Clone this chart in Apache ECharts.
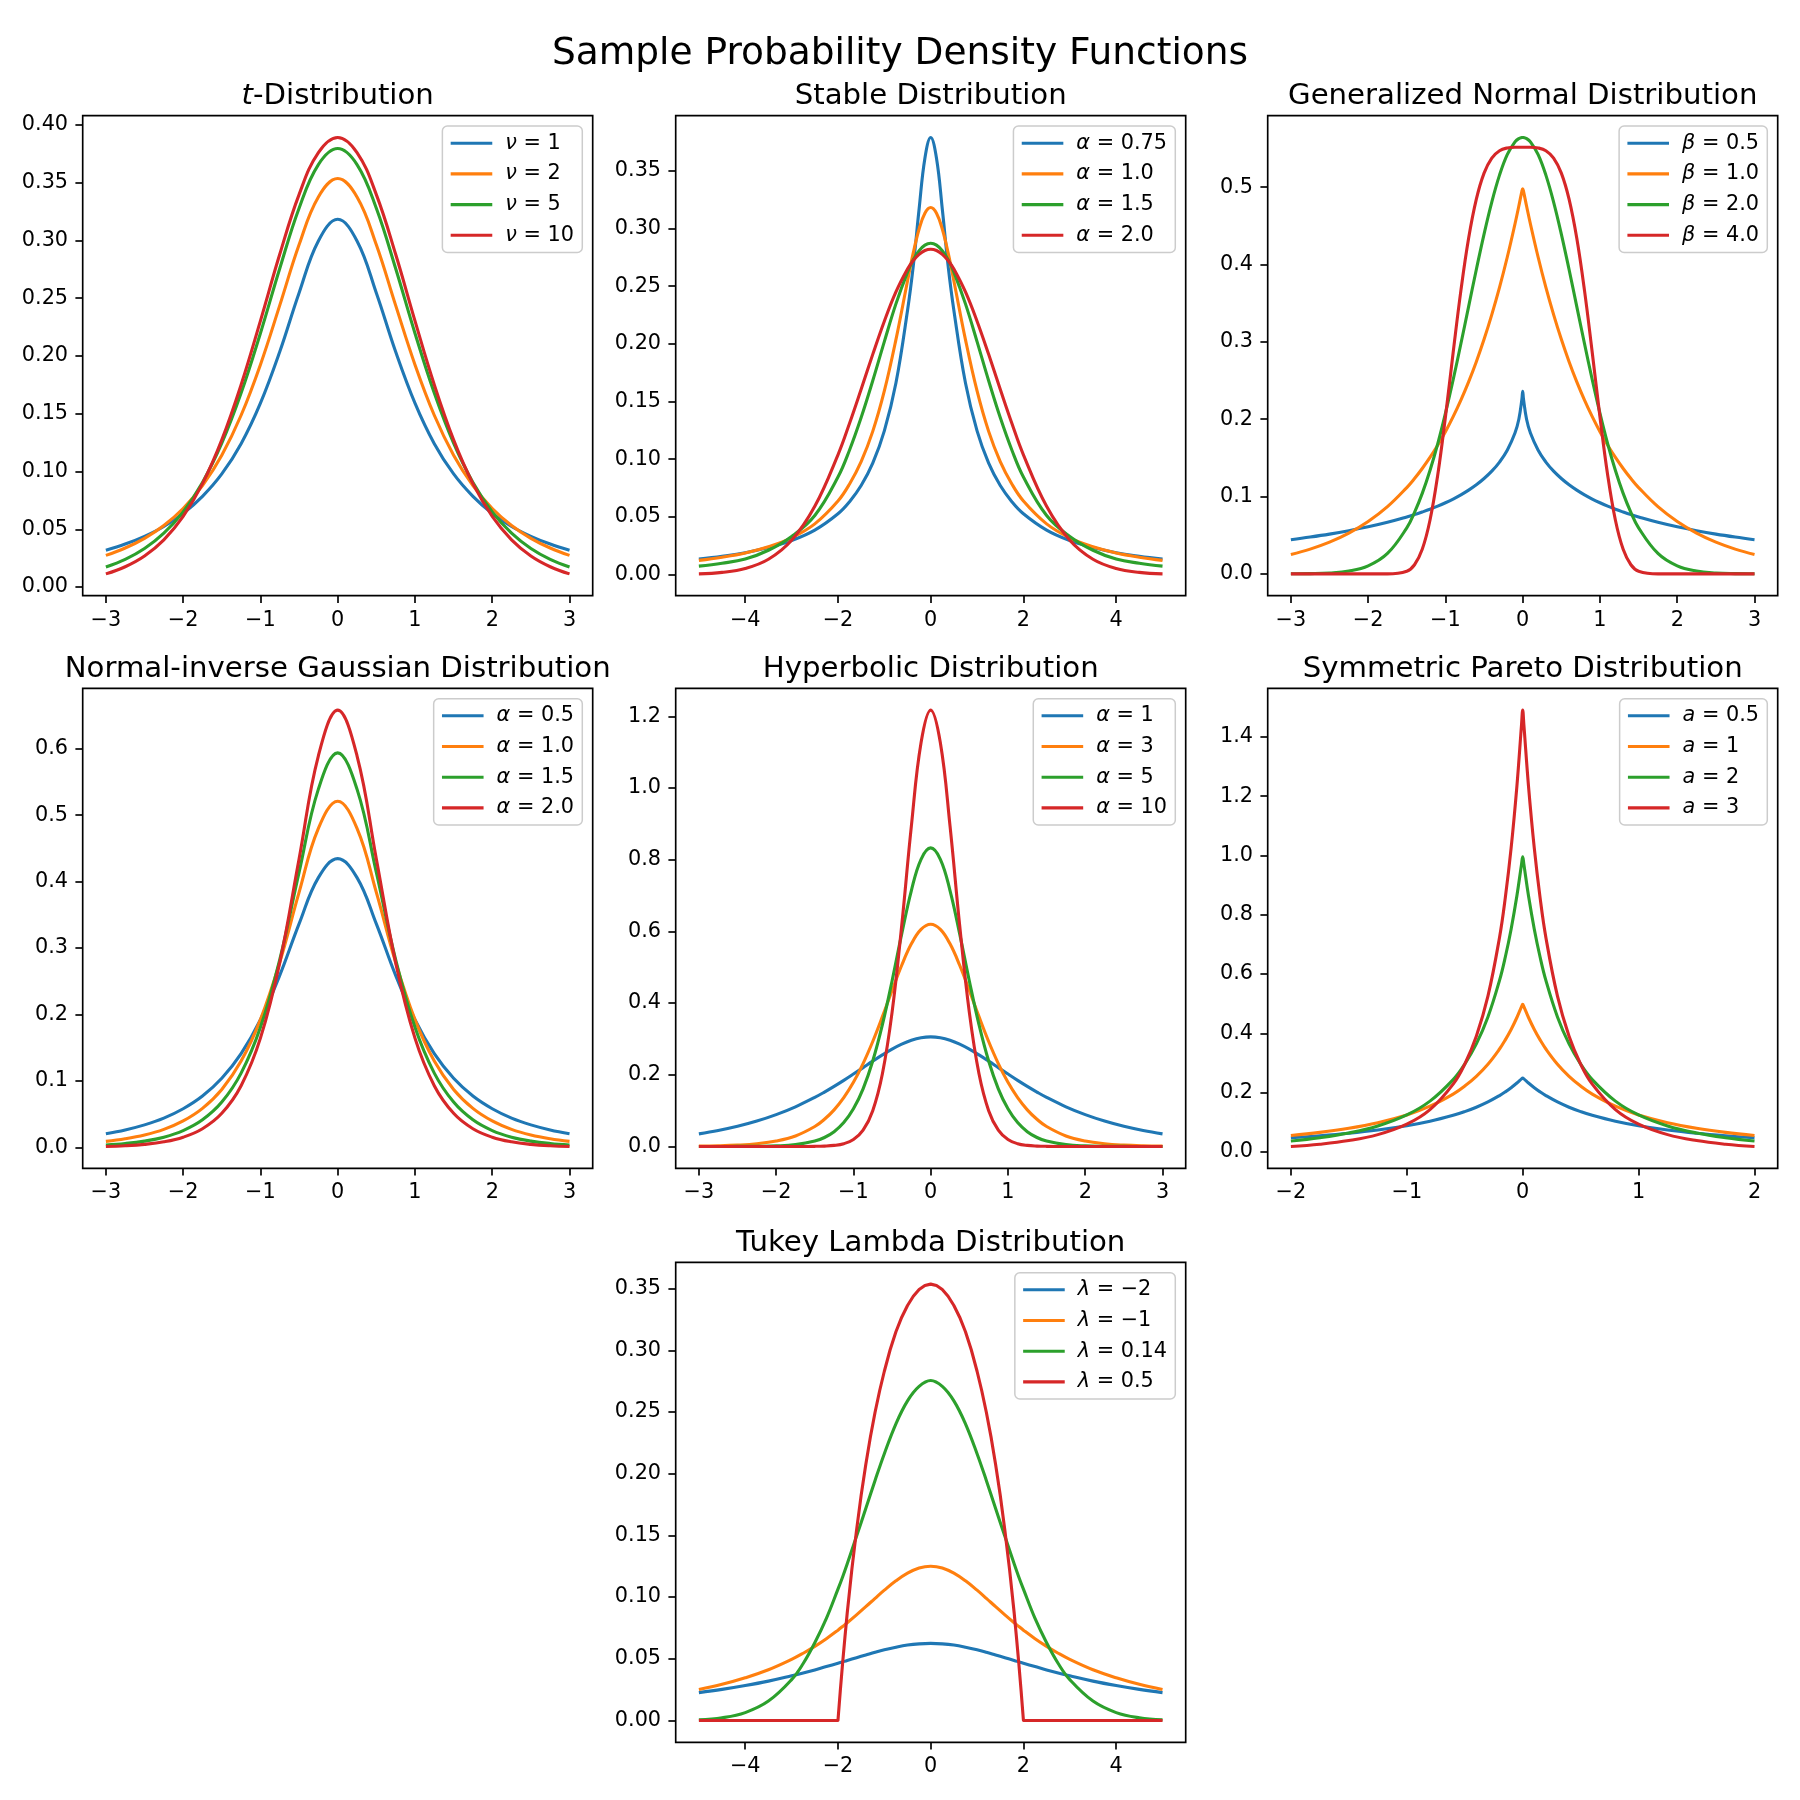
<!DOCTYPE html>
<html><head><meta charset="utf-8">
<script src="https://cdn.jsdelivr.net/npm/echarts@6/dist/echarts.min.js"></script>
<style>html,body{margin:0;padding:0;background:#fff}#c{width:1800px;height:1800px}</style>
</head><body><div id="c"></div>
<script>
// ---------- t-Distribution ----------
const tX = [-3,-2.75,-2.5,-2.25,-2,-1.75,-1.5,-1.25,-1,-0.75,-0.5,-0.25,0,0.25,0.5,0.75,1,1.25,1.5,1.75,2,2.25,2.5,2.75,3];
const tNu1 = [0.0318,0.0372,0.0439,0.0524,0.0637,0.0785,0.0979,0.1241,0.1592,0.2037,0.2546,0.2996,0.3183,0.2996,0.2546,0.2037,0.1592,0.1241,0.0979,0.0785,0.0637,0.0524,0.0439,0.0372,0.0318];
const tNu2 = [0.0274,0.0338,0.0422,0.0533,0.0680,0.0878,0.1141,0.1487,0.1925,0.2438,0.2963,0.3376,0.3536,0.3376,0.2963,0.2438,0.1925,0.1487,0.1141,0.0878,0.0680,0.0533,0.0422,0.0338,0.0274];
const tNu5 = [0.0173,0.0239,0.0333,0.0466,0.0651,0.0905,0.1245,0.1679,0.2197,0.2757,0.3279,0.3657,0.3796,0.3657,0.3279,0.2757,0.2197,0.1679,0.1245,0.0905,0.0651,0.0466,0.0333,0.0239,0.0173];
const tNu10 = [0.0114,0.0176,0.0269,0.0409,0.0612,0.0895,0.1274,0.1751,0.2304,0.2880,0.3397,0.3760,0.3891,0.3760,0.3397,0.2880,0.2304,0.1751,0.1274,0.0895,0.0612,0.0409,0.0269,0.0176,0.0114];
const tNames = ['ν = 1','ν = 2','ν = 5','ν = 10'];
const tXTicks = [-3,-2,-1,0,1,2,3];
const tYTicks = [0,0.05,0.1,0.15,0.2,0.25,0.3,0.35,0.4];

// ---------- Stable ----------
const stX = [-5,-4.5,-4,-3.5,-3,-2.5,-2,-1.75,-1.5,-1.25,-1,-0.75,-0.5,-0.375,-0.25,-0.125,0,0.125,0.25,0.375,0.5,0.75,1,1.25,1.5,1.75,2,2.5,3,3.5,4,4.5,5];
const stA075 = [0.0133,0.0158,0.0189,0.0233,0.0294,0.0384,0.0526,0.0631,0.0771,0.0965,0.1245,0.166,0.229,0.268,0.317,0.361,0.379,0.361,0.317,0.268,0.229,0.166,0.1245,0.0965,0.0771,0.0631,0.0526,0.0384,0.0294,0.0233,0.0189,0.0158,0.0133];
const stA10 = [0.0122,0.0150,0.0187,0.0241,0.0318,0.0439,0.0637,0.0785,0.0979,0.1241,0.1592,0.2037,0.2546,0.2791,0.2996,0.3134,0.3183,0.3134,0.2996,0.2791,0.2546,0.2037,0.1592,0.1241,0.0979,0.0785,0.0637,0.0439,0.0318,0.0241,0.0187,0.0150,0.0122];
const stA15 = [0.0072,0.0097,0.0134,0.0210,0.0330,0.0511,0.0845,0.1080,0.1361,0.1680,0.2020,0.2347,0.2623,0.2729,0.2808,0.2857,0.2873,0.2857,0.2808,0.2729,0.2623,0.2347,0.2020,0.1680,0.1361,0.1080,0.0845,0.0511,0.0330,0.0210,0.0134,0.0097,0.0072];
const stA20 = [0.0005,0.0018,0.0052,0.0132,0.0297,0.0591,0.1038,0.1312,0.1607,0.1909,0.2197,0.2451,0.2650,0.2724,0.2777,0.2810,0.2821,0.2810,0.2777,0.2724,0.2650,0.2451,0.2197,0.1909,0.1607,0.1312,0.1038,0.0591,0.0297,0.0132,0.0052,0.0018,0.0005];
const stNames = ['α = 0.75','α = 1.0','α = 1.5','α = 2.0'];
const stXTicks = [-4,-2,0,2,4];
const stYTicks = [0,0.05,0.1,0.15,0.2,0.25,0.3,0.35];

// ---------- Generalized Normal ----------
const gnX = [-3,-2.75,-2.5,-2.25,-2,-1.75,-1.5,-1.4,-1.3,-1.2,-1.1,-1,-0.9,-0.8,-0.7,-0.6,-0.5,-0.4,-0.3,-0.2,-0.1,-0.05,-0.01,0,0.01,0.05,0.1,0.2,0.3,0.4,0.5,0.6,0.7,0.8,0.9,1,1.1,1.2,1.3,1.4,1.5,1.75,2,2.25,2.5,2.75,3];
const gnB05 = [0.0442,0.0476,0.0514,0.0558,0.0608,0.0666,0.0735,0.0766,0.0800,0.0836,0.0876,0.0920,0.0968,0.1022,0.1083,0.1152,0.1233,0.1328,0.1446,0.1599,0.1822,0.1999,0.2262,0.236,0.2262,0.1999,0.1822,0.1599,0.1446,0.1328,0.1233,0.1152,0.1083,0.1022,0.0968,0.0920,0.0876,0.0836,0.0800,0.0766,0.0735,0.0666,0.0608,0.0558,0.0514,0.0476,0.0442];
const gnB10 = [0.0249,0.0320,0.0410,0.0527,0.0677,0.0869,0.1116,0.1233,0.1363,0.1506,0.1664,0.1839,0.2033,0.2247,0.2483,0.2744,0.3033,0.3352,0.3704,0.4094,0.4524,0.4756,0.4950,0.498,0.4950,0.4756,0.4524,0.4094,0.3704,0.3352,0.3033,0.2744,0.2483,0.2247,0.2033,0.1839,0.1664,0.1506,0.1363,0.1233,0.1116,0.0869,0.0677,0.0527,0.0410,0.0320,0.0249];
const gnB20 = [0.0001,0.0003,0.0011,0.0036,0.0103,0.0264,0.0595,0.0795,0.1041,0.1337,0.1682,0.2076,0.2510,0.2975,0.3456,0.3936,0.4394,0.4808,0.5156,0.5421,0.5586,0.5628,0.5641,0.5642,0.5641,0.5628,0.5586,0.5421,0.5156,0.4808,0.4394,0.3936,0.3456,0.2975,0.2510,0.2076,0.1682,0.1337,0.1041,0.0795,0.0595,0.0264,0.0103,0.0036,0.0011,0.0003,0.0001];
const gnB40 = [0,0,0,0,0,0.0000,0.0035,0.0118,0.0317,0.0693,0.1276,0.2029,0.2862,0.3662,0.4339,0.4845,0.5182,0.5376,0.5471,0.5507,0.5516,0.5516,0.5516,0.5516,0.5516,0.5516,0.5516,0.5507,0.5471,0.5376,0.5182,0.4845,0.4339,0.3662,0.2862,0.2029,0.1276,0.0693,0.0317,0.0118,0.0035,0.0000,0,0,0,0,0];
const gnNames = ['β = 0.5','β = 1.0','β = 2.0','β = 4.0'];
const gnXTicks = [-3,-2,-1,0,1,2,3];
const gnYTicks = [0,0.1,0.2,0.3,0.4,0.5];

// ---------- Normal-inverse Gaussian ----------
const nigX = [-3,-2.75,-2.5,-2.25,-2,-1.75,-1.5,-1.25,-1,-0.75,-0.5,-0.25,0,0.25,0.5,0.75,1,1.25,1.5,1.75,2,2.25,2.5,2.75,3];
const nigA05 = [0.0205,0.0263,0.0339,0.0441,0.0582,0.0773,0.1040,0.1411,0.1921,0.2589,0.3364,0.4060,0.4346,0.4060,0.3364,0.2589,0.1921,0.1411,0.1040,0.0773,0.0582,0.0441,0.0339,0.0263,0.0205];
const nigA10 = [0.0091,0.0130,0.0187,0.0272,0.0399,0.0588,0.0873,0.1299,0.1923,0.2786,0.3837,0.4800,0.5208,0.4800,0.3837,0.2786,0.1923,0.1299,0.0873,0.0588,0.0399,0.0272,0.0187,0.0130,0.0091];
const nigA15 = [0.0037,0.0059,0.0095,0.0154,0.0253,0.0415,0.0682,0.1118,0.1807,0.2827,0.4138,0.5391,0.5936,0.5391,0.4138,0.2827,0.1807,0.1118,0.0682,0.0415,0.0253,0.0154,0.0095,0.0059,0.0037];
const nigA20 = [0.0014,0.0025,0.0046,0.0084,0.0154,0.0281,0.0513,0.0929,0.1644,0.2781,0.4341,0.5893,0.6580,0.5893,0.4341,0.2781,0.1644,0.0929,0.0513,0.0281,0.0154,0.0084,0.0046,0.0025,0.0014];
const nigNames = ['α = 0.5','α = 1.0','α = 1.5','α = 2.0'];
const nigXTicks = [-3,-2,-1,0,1,2,3];
const nigYTicks = [0,0.1,0.2,0.3,0.4,0.5,0.6];

// ---------- Hyperbolic ----------
const hypX = [-3,-2.75,-2.5,-2.25,-2,-1.75,-1.5,-1.375,-1.25,-1.125,-1,-0.875,-0.75,-0.625,-0.5,-0.375,-0.25,-0.125,0,0.125,0.25,0.375,0.5,0.625,0.75,0.875,1,1.125,1.25,1.375,1.5,1.75,2,2.25,2.5,2.75,3];
const hypA1 = [0.0352,0.0445,0.0562,0.0708,0.0888,0.1107,0.1369,0.1517,0.1676,0.1844,0.2020,0.2200,0.2380,0.2554,0.2716,0.2855,0.2963,0.3032,0.3056,0.3032,0.2963,0.2855,0.2716,0.2554,0.2380,0.2200,0.2020,0.1844,0.1676,0.1517,0.1369,0.1107,0.0888,0.0708,0.0562,0.0445,0.0352];
const hypA3 = [0.0009,0.0019,0.0039,0.0077,0.0152,0.0294,0.0557,0.0759,0.1022,0.1362,0.1789,0.2312,0.2928,0.3621,0.4351,0.5055,0.5652,0.6056,0.6199,0.6056,0.5652,0.5055,0.4351,0.3621,0.2928,0.2312,0.1789,0.1362,0.1022,0.0759,0.0557,0.0294,0.0152,0.0077,0.0039,0.0019,0.0009];
const hypA5 = [0.0000,0.0001,0.0002,0.0006,0.0017,0.0052,0.0150,0.0251,0.0413,0.0666,0.1050,0.1609,0.2386,0.3400,0.4617,0.5929,0.7140,0.8011,0.8329,0.8011,0.7140,0.5929,0.4617,0.3400,0.2386,0.1609,0.1050,0.0666,0.0413,0.0251,0.0150,0.0052,0.0017,0.0006,0.0002,0.0001,0.0000];
const hypA10 = [0,0,0,0,0,0.0000,0.0004,0.0011,0.0030,0.0078,0.0193,0.0454,0.0999,0.2028,0.3741,0.6166,0.8945,1.1259,1.2172,1.1259,0.8945,0.6166,0.3741,0.2028,0.0999,0.0454,0.0193,0.0078,0.0030,0.0011,0.0004,0.0000,0,0,0,0,0];
const hypNames = ['α = 1','α = 3','α = 5','α = 10'];
const hypXTicks = [-3,-2,-1,0,1,2,3];
const hypYTicks = [0,0.2,0.4,0.6,0.8,1.0,1.2];

// ---------- Symmetric Pareto ----------
const parX = [-2,-1.75,-1.5,-1.25,-1,-0.8,-0.6,-0.5,-0.4,-0.3,-0.2,-0.15,-0.1,-0.05,-0.01,0,0.01,0.05,0.1,0.15,0.2,0.3,0.4,0.5,0.6,0.8,1,1.25,1.5,1.75,2];
const parA05 = [0.0481,0.0548,0.0632,0.0741,0.0884,0.1035,0.1235,0.1361,0.1509,0.1687,0.1902,0.2027,0.2167,0.2324,0.2463,0.249,0.2463,0.2324,0.2167,0.2027,0.1902,0.1687,0.1509,0.1361,0.1235,0.1035,0.0884,0.0741,0.0632,0.0548,0.0481];
const parA1 = [0.0556,0.0661,0.0800,0.0988,0.1250,0.1543,0.1953,0.2222,0.2551,0.2959,0.3472,0.3781,0.4132,0.4535,0.4901,0.498,0.4901,0.4535,0.4132,0.3781,0.3472,0.2959,0.2551,0.2222,0.1953,0.1543,0.1250,0.0988,0.0800,0.0661,0.0556];
const parA2 = [0.0370,0.0481,0.0640,0.0878,0.1250,0.1715,0.2441,0.2963,0.3644,0.4552,0.5787,0.6575,0.7513,0.8638,0.9706,0.995,0.9706,0.8638,0.7513,0.6575,0.5787,0.4552,0.3644,0.2963,0.2441,0.1715,0.1250,0.0878,0.0640,0.0481,0.0370];
const parA3 = [0.0185,0.0262,0.0384,0.0585,0.0938,0.1429,0.2289,0.2963,0.3905,0.5252,0.7234,0.8576,1.0245,1.2340,1.4415,1.490,1.4415,1.2340,1.0245,0.8576,0.7234,0.5252,0.3905,0.2963,0.2289,0.1429,0.0938,0.0585,0.0384,0.0262,0.0185];
const parNames = ['a = 0.5','a = 1','a = 2','a = 3'];
const parXTicks = [-2,-1,0,1,2];
const parYTicks = [0,0.2,0.4,0.6,0.8,1.0,1.2,1.4];

// ---------- Tukey Lambda ----------
const tukX = [-5,-4.5,-4,-3.5,-3,-2.75,-2.5,-2.25,-2,-1.9,-1.8,-1.6,-1.4,-1.2,-1,-0.75,-0.5,-0.25,0,0.25,0.5,0.75,1,1.2,1.4,1.6,1.8,1.9,2,2.25,2.5,2.75,3,3.5,4,4.5,5];
const tukLm2 = [0.0226,0.0252,0.0283,0.0319,0.0362,0.0385,0.0410,0.0437,0.0464,0.0475,0.0486,0.0509,0.0531,0.0553,0.0573,0.0594,0.0611,0.0621,0.0625,0.0621,0.0611,0.0594,0.0573,0.0553,0.0531,0.0509,0.0486,0.0475,0.0464,0.0437,0.0410,0.0385,0.0362,0.0319,0.0283,0.0252,0.0226];
const tukLm1 = [0.0251,0.0293,0.0346,0.0411,0.0495,0.0545,0.0601,0.0663,0.0732,0.0762,0.0792,0.0856,0.0922,0.0990,0.1056,0.1132,0.1194,0.1236,0.1250,0.1236,0.1194,0.1132,0.1056,0.0990,0.0922,0.0856,0.0792,0.0762,0.0732,0.0663,0.0601,0.0545,0.0495,0.0411,0.0346,0.0293,0.0251];
const tukL014 = [0.0006,0.0022,0.0064,0.0157,0.0331,0.0462,0.0630,0.0827,0.1064,0.1163,0.1270,0.1492,0.1717,0.1945,0.2162,0.2404,0.2590,0.2707,0.2755,0.2707,0.2590,0.2404,0.2162,0.1945,0.1717,0.1492,0.1270,0.1163,0.1064,0.0827,0.0630,0.0462,0.0331,0.0157,0.0064,0.0022,0.0006];
const tukX05 = [-5,-2.5,-2,-1.95,-1.9,-1.85,-1.8,-1.7,-1.6,-1.5,-1.4,-1.3,-1.2,-1.1,-1,-0.875,-0.75,-0.625,-0.5,-0.375,-0.25,-0.125,0,0.125,0.25,0.375,0.5,0.625,0.75,0.875,1,1.1,1.2,1.3,1.4,1.5,1.6,1.7,1.8,1.85,1.9,1.95,2,2.5,5];
const tukL05 = [0,0,0,0.0240,0.0464,0.0674,0.0873,0.1227,0.1540,0.1825,0.2075,0.2300,0.2498,0.2674,0.2830,0.3004,0.3150,0.3268,0.3363,0.3438,0.3492,0.3525,0.3536,0.3525,0.3492,0.3438,0.3363,0.3268,0.3150,0.3004,0.2830,0.2674,0.2498,0.2300,0.2075,0.1825,0.1540,0.1227,0.0873,0.0674,0.0464,0.0240,0,0,0];
const tukNames = ['λ = −2','λ = −1','λ = 0.14','λ = 0.5'];
const tukXTicks = [-4,-2,0,2,4];
const tukYTicks = [0,0.05,0.1,0.15,0.2,0.25,0.3,0.35];

// ---------- Layout / style ----------
const FONT = 'DejaVu Sans';
const COLORS = ['#1f77b4','#ff7f0e','#2ca02c','#d62728'];
const COL_LEFT = [82.7, 675.7, 1267.7];
const ROW_TOP = [115.7, 688.3, 1262.3];
const AX_W = 510, AX_H = 480;
const TICK_FS = 20.8, TITLE_FS = 29.2, SUP_FS = 37.5;

const plots = [
  {title:'{i|t}-Distribution', rich:true, xs:[tX,tX,tX,tX], ys:[tNu1,tNu2,tNu5,tNu10], names:tNames, xt:tXTicks, yt:tYTicks, yd:2, col:0, row:0},
  {title:'Stable Distribution', xs:[stX,stX,stX,stX], ys:[stA075,stA10,stA15,stA20], names:stNames, xt:stXTicks, yt:stYTicks, yd:2, col:1, row:0},
  {title:'Generalized Normal Distribution', xs:[gnX,gnX,gnX,gnX], ys:[gnB05,gnB10,gnB20,gnB40], names:gnNames, xt:gnXTicks, yt:gnYTicks, yd:1, col:2, row:0},
  {title:'Normal-inverse Gaussian Distribution', xs:[nigX,nigX,nigX,nigX], ys:[nigA05,nigA10,nigA15,nigA20], names:nigNames, xt:nigXTicks, yt:nigYTicks, yd:1, col:0, row:1},
  {title:'Hyperbolic Distribution', xs:[hypX,hypX,hypX,hypX], ys:[hypA1,hypA3,hypA5,hypA10], names:hypNames, xt:hypXTicks, yt:hypYTicks, yd:1, col:1, row:1},
  {title:'Symmetric Pareto Distribution', xs:[parX,parX,parX,parX], ys:[parA05,parA1,parA2,parA3], names:parNames, xt:parXTicks, yt:parYTicks, yd:1, col:2, row:1},
  {title:'Tukey Lambda Distribution', xs:[tukX,tukX,tukX,tukX05], ys:[tukLm2,tukLm1,tukL014,tukL05], names:tukNames, xt:tukXTicks, yt:tukYTicks, yd:2, col:1, row:2, noSmooth:[3]}
];

const fmt = d => v => Number(v).toFixed(d).replace('-', '\u2212');

const option = {
  animation:false, backgroundColor:'#ffffff',
  grid:[], xAxis:[], yAxis:[], series:[], legend:[],
  graphic:[{
    type:'text', x:900, y:54.3, silent:true,
    style:{text:'Sample Probability Density Functions', fontSize:SUP_FS, fontFamily:FONT, fill:'#000', align:'center', verticalAlign:'middle'}
  }]
};

plots.forEach((p, i) => {
  const left = COL_LEFT[p.col], top = ROW_TOP[p.row];
  const allX = [].concat(...p.xs);
  const xmin = Math.min(...allX), xmax = Math.max(...allX), dx = (xmax - xmin) * 0.05;
  const all = [].concat(...p.ys);
  const ymin = Math.min(...all), ymax = Math.max(...all), dy = (ymax - ymin) * 0.05;
  option.grid.push({left:left, top:top, width:AX_W, height:AX_H, show:true, borderColor:'#000', borderWidth:1.67, backgroundColor:'transparent', containLabel:false, outerBoundsMode:'none'});
  const tickStyle = {color:'#000', width:1.67};
  option.xAxis.push({
    type:'value', gridIndex:i, min:xmin - dx, max:xmax + dx,
    axisLine:{show:false, onZero:false}, splitLine:{show:false},
    axisTick:{show:true, customValues:p.xt, length:7.3, lineStyle:tickStyle},
    axisLabel:{customValues:p.xt, formatter:fmt(0), margin:14, fontSize:TICK_FS, fontFamily:FONT, color:'#000'}
  });
  option.yAxis.push({
    type:'value', gridIndex:i, min:ymin - dy, max:ymax + dy,
    axisLine:{show:false, onZero:false}, splitLine:{show:false},
    axisTick:{show:true, customValues:p.yt, length:7.3, lineStyle:tickStyle},
    axisLabel:{customValues:p.yt, formatter:fmt(p.yd), margin:14.6, fontSize:TICK_FS, fontFamily:FONT, color:'#000', padding:[4,0,0,0]}
  });
  p.ys.forEach((y, k) => {
    const xv = p.xs[k];
    option.series.push({
      type:'line', name:p.names[k], xAxisIndex:i, yAxisIndex:i,
      data:xv.map((x, j) => [x, y[j]]),
      showSymbol:false, symbol:'none', silent:true,
      smooth:(p.noSmooth && p.noSmooth.includes(k)) ? false : 0.4,
      color:COLORS[k], itemStyle:{color:COLORS[k]},
      lineStyle:{width:3.1, color:COLORS[k], join:'round'}
    });
  });
  option.legend.push({
    orient:'vertical', right:1800 - (left + AX_W) + 10.4, top:top + 10.4,
    data:p.names.map((n, k) => ({name:n, itemStyle:{color:COLORS[k]}})),
    icon:'rect', itemWidth:41.6, itemHeight:3.1, itemGap:9.7, padding:[6.6, 8.3, 6.6, 8.3],
    backgroundColor:'rgba(255,255,255,0.8)', borderColor:'#cccccc', borderWidth:1.5, borderRadius:5,
    selectedMode:false, align:'left',
    formatter: n => '{i|' + n[0] + '}{n|' + n.slice(1) + '}',
    textStyle:{fontFamily:FONT, fontSize:TICK_FS, color:'#000', lineHeight:16, padding:[0,0,0,8],
      rich:{i:{fontStyle:'italic', fontFamily:FONT, fontSize:TICK_FS, lineHeight:16, color:'#000'},
            n:{fontFamily:FONT, fontSize:TICK_FS, lineHeight:16, color:'#000'}}}
  });
  const tStyle = {text:p.title, fontSize:TITLE_FS, fontFamily:FONT, fill:'#000', align:'center', verticalAlign:'middle'};
  if (p.rich) tStyle.rich = {i:{fontStyle:'italic', fontSize:TITLE_FS, fontFamily:FONT, fill:'#000'}};
  option.graphic.push({type:'text', x:left + AX_W / 2, y:top - 12.7 - 0.297 * TITLE_FS + 2.3, silent:true, style:tStyle});
});

const chart = echarts.init(document.getElementById('c'), null, {renderer:'canvas', width:1800, height:1800});
chart.setOption(option);
</script>
</body></html>
